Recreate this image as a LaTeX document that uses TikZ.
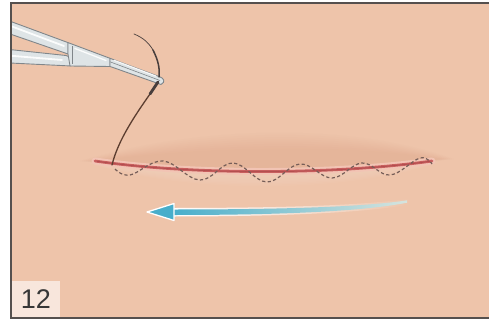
\documentclass[tikz,border=0pt]{standalone}
\usepackage{fontspec}
\newfontfamily\labelfont{Liberation Sans}
\usetikzlibrary{calc}
\definecolor{skin}{RGB}{238,196,170}
\definecolor{skindark}{RGB}{214,160,132}
\definecolor{skinlight}{RGB}{246,212,192}
\definecolor{frameline}{RGB}{85,80,78}
\definecolor{labelbg}{RGB}{248,230,220}
\definecolor{labeltext}{RGB}{55,55,55}
\definecolor{metal}{RGB}{222,228,230}
\definecolor{metaledge}{RGB}{128,134,138}
\definecolor{needle}{RGB}{72,62,60}
\definecolor{thread}{RGB}{92,62,48}
\definecolor{cut}{RGB}{200,94,94}
\definecolor{cutcore}{RGB}{168,72,72}
\definecolor{cutband}{RGB}{242,196,180}
\definecolor{suture}{RGB}{118,94,88}
\definecolor{arrowblue}{RGB}{72,174,203}
\definecolor{arrowpale}{RGB}{214,228,222}
\tikzset{
  metalpart/.style={fill=metal, draw=metaledge, line width=0.9pt, line join=round},
  shine/.style={white, line width=1.8pt, line cap=round, opacity=0.9},
  sutureline/.style={suture, line width=1.2pt, dash pattern=on 3.2pt off 2.4pt},
  framestroke/.style={frameline, line width=1.8pt},
}
\begin{document}
\begin{tikzpicture}[x=1pt,y=-1pt]
\useasboundingbox (0,0) rectangle (489,321);
% page and skin panel
\fill[white] (0,0) rectangle (489,321);
\fill[skin] (11,3) rectangle (489,318);

\begin{scope}
\clip (11,3) rectangle (489,318);
% soft shadow above the wound edge
\foreach \k in {0,...,7}{
  \fill[skindark, opacity=0.045]
    (94-\k*2,161) .. controls (200,146-\k*3) and (350,143-\k*3) .. (440+\k*2,159)
    .. controls (350,170) and (200,172) .. cycle;
}
% lighter lower lip of the wound
\foreach \k in {0,...,6}{
  \fill[skinlight, opacity=0.12]
    (94-\k,163) .. controls (200,177) and (340,176) .. (434+\k,162)
    .. controls (360,178+\k*2) and (200,186+\k*2) .. cycle;
}
% incision
\draw[cutband, line width=7pt, line cap=round]
  (95,161) .. controls (200,176) and (340,174) .. (432,161);
\draw[cut, line width=2.8pt, line cap=round]
  (95,161) .. controls (200,176) and (340,174) .. (432,161);
\draw[cutcore, line width=0.5pt]
  (97,161.3) .. controls (200,176) and (340,174) .. (430,161.3);

% running suture path
\draw[sutureline] plot[smooth, tension=0.65] coordinates {
  (115,169) (130,175) (163,161) (200,180) (233,163) (267,182)
  (300,164) (332,178) (362,163) (390,175) (420,158) (432,164)};

% thread leaving the tissue
\draw[thread, line width=1.3pt, line cap=round]
  (150,94) .. controls (136,114) and (118,140) .. (112,165);

% needle holder: lower shaft
\path[metalpart] (0,48.5) -- (66,55.5) -- (71,57.5) -- (71,66) -- (0,62.5) -- cycle;
\draw[shine] (8,55.5) -- (62,60);
% upper shaft
\path[metalpart] (0,17.5) -- (68,42.6) -- (68,54) -- (0,30.5) -- cycle;
\draw[shine] (8,25) -- (64,46);
% box joint
\path[metalpart] (68,42.6) -- (110,58.3) -- (110,66.5) -- (70,66) -- (68,54) -- cycle;
\draw[metaledge, line width=0.6pt] (72,46) -- (72,63.5);
\draw[shine, line width=1.3pt] (75,48.5) -- (106,60.5);
% jaws
\path[metalpart] (110,58.3) -- (159,76.5) .. controls (164,78) and (166,82) .. (161,84.5)
  -- (113,67.5) -- (110,66.5) -- cycle;
\draw[metaledge, line width=0.6pt] (110,61.8) -- (160,80.5);
\draw[shine, line width=1.1pt] (114,60.2) -- (156,76);

% curved needle held in the jaws
\draw[needle, line width=0.7pt, line cap=round]
  (134,34) .. controls (144,38) and (150,44) .. (154,52);
\draw[needle, line width=1.5pt, line cap=round]
  (153,50) .. controls (158,60) and (160,68) .. (159,77);
\draw[needle, line width=2.8pt, line cap=round]
  (158,82) -- (150,94);

% direction arrow
\shade[left color=white, middle color=white!70!skin, right color=skin]
  (170,208) .. controls (300,208) and (370,204.5) .. (410,198.5)
  -- (410,204.5) .. controls (370,211.5) and (300,216.5) .. (170,216.5) -- cycle;
\shade[left color=arrowblue, middle color=arrowblue!55!arrowpale, right color=arrowpale]
  (172,209.5) .. controls (300,209.5) and (370,206) .. (407,200.3)
  -- (407,202.7) .. controls (370,210) and (300,215) .. (172,215) -- cycle;
\fill[arrowblue, draw=white, line width=1.3pt, line join=round]
  (147,212) -- (174,203.5) -- (174,220.5) -- cycle;
\end{scope}

% frame
\draw[framestroke] (489,3) -- (11,3) -- (11,318) -- (489,318);

% step number
\fill[labelbg] (12,281) rectangle (60,317);
\node[text=labeltext, font=\labelfont\fontsize{27}{27}\selectfont, inner sep=0pt]
  (num) at (36,299) {12};
\end{tikzpicture}
\end{document}
